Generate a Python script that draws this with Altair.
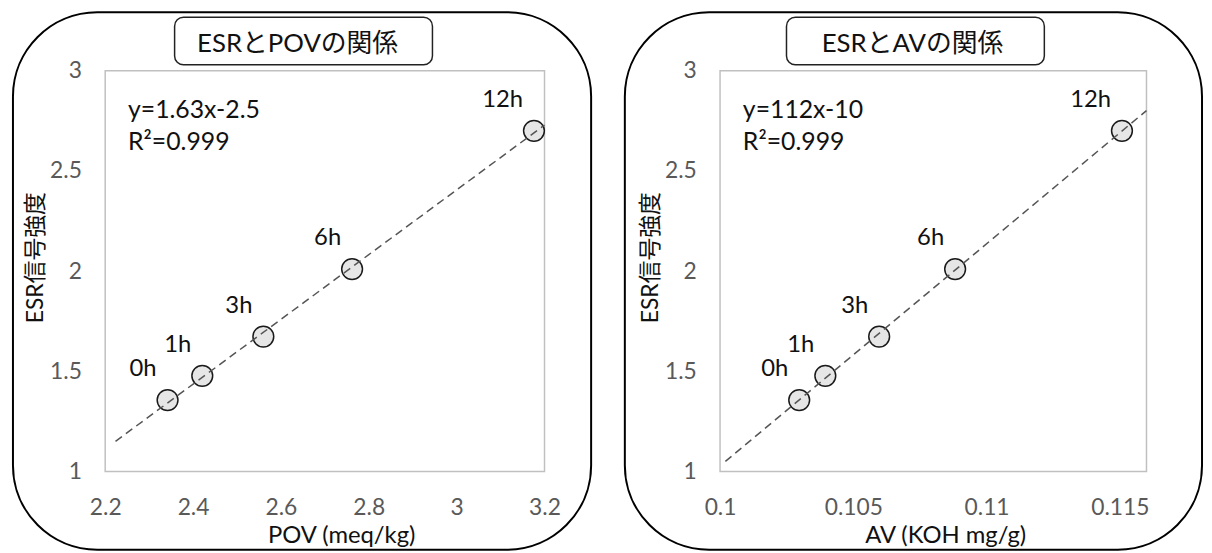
import altair as alt
import pandas as pd

FONT = "Lato, 'Noto Sans CJK JP', sans-serif"

labels = ["0h", "1h", "3h", "6h", "12h"]
esr = [1.356, 1.477, 1.673, 2.01, 2.70]
pov = [2.342, 2.421, 2.560, 2.762, 3.176]
av = [0.10297, 0.10395, 0.10597, 0.10882, 0.11508]

pov_ticks = [2.2, 2.4, 2.6, 2.8, 3.0, 3.2]
av_ticks = [0.1, 0.105, 0.11, 0.115]
y_ticks = [1, 1.5, 2, 2.5, 3]

pov_eq = ["y=1.63x-2.5", "R\u00b2=0.999"]
av_eq = ["y=112x-10", "R\u00b2=0.999"]

one = pd.DataFrame({"k": [0]})


def panel(xvals, xdomain, xticks, xtitle, extent, eq, title, width, height,
          border, tbox, title_x, xtitle_x):
    df = pd.DataFrame({"x": xvals, "y": esr, "label": labels})
    base = alt.Chart(df)
    xenc = alt.X("x:Q", scale=alt.Scale(domain=xdomain, nice=False, zero=False),
                 axis=alt.Axis(values=xticks, format="~g", title=xtitle, grid=False,
                               domain=False, ticks=False, tickSize=0, labelPadding=25,
                               labelFlush=False, labelOverlap=False,
                               titleFontSize=24,
                               titleX=xtitle_x, titleY=65, titleBaseline="middle",
                               titleAlign="center"))
    yenc = alt.Y("y:Q", scale=alt.Scale(domain=[1, 3], nice=False, zero=False),
                 axis=alt.Axis(values=y_ticks, format="~g", title="ESR信号強度", grid=False,
                               domain=False, ticks=False, tickSize=0, labelPadding=24,
                               labelFlush=False, labelOverlap=False,
                               titleFontSize=23,
                               titleX=-70, titleY=188, titleBaseline="middle",
                               titleAlign="center", titleAngle=270))
    outer = alt.Chart(one).mark_rect(filled=False, color="black", strokeWidth=2,
                                     cornerRadius=85).encode(
        x=alt.value(border[0]), x2=alt.value(border[1]),
        y=alt.value(border[2]), y2=alt.value(border[3]))
    box = alt.Chart(one).mark_rect(fill="white", stroke="#222222", strokeWidth=1.5,
                                   cornerRadius=9).encode(
        x=alt.value(tbox[0]), x2=alt.value(tbox[1]),
        y=alt.value(tbox[2]), y2=alt.value(tbox[3]))
    ttext = alt.Chart(one).mark_text(text=title, font=FONT, fontSize=26, color="#111111",
                                     align="center", baseline="middle").encode(
        x=alt.value(title_x), y=alt.value(-27))
    eqtext = alt.Chart(one).mark_text(text=eq, font=FONT, fontSize=25, color="#111111",
                                      align="left", baseline="alphabetic",
                                      lineHeight=32).encode(
        x=alt.value(23), y=alt.value(48))
    pts = base.mark_circle(size=440, color="#e6e6e6", opacity=1, stroke="#1a1a1a",
                           strokeWidth=1.5).encode(x=xenc, y=yenc)
    line = base.transform_regression("x", "y", extent=extent).mark_line(
        color="#555555", strokeWidth=1.5, strokeDash=[8, 5]).encode(
        x="x:Q", y="y:Q")
    txt = base.mark_text(font=FONT, fontSize=24, color="#111111", align="right",
                         baseline="middle", dx=-11, dy=-31).encode(
        x="x:Q", y="y:Q", text="label:N")
    return alt.layer(outer, box, ttext, eqtext, pts, line, txt).properties(
        width=width, height=height)


left = panel(pov, [2.2, 3.2], pov_ticks, "POV (meq/kg)", [2.2235, 3.2], pov_eq,
             "ESRとPOVの関係", 443, 404,
             [-93, 490, -59, 483], [70, 330, -54, -6], 194, 238)
right = panel(av, [0.1, 0.116], av_ticks, "AV (KOH mg/g)", [0.1002, 0.116], av_eq,
              "ESRとAVの関係", 430, 404,
              [-96, 486, -59, 483], [67, 327, -54, -6], 194, 227)

chart = alt.hconcat(left, right, spacing=30).properties(
    padding={"left": 3, "top": 0, "right": 0, "bottom": 0}
).configure_view(stroke="#c0c0c0", strokeWidth=1.5).configure_axis(
    labelFont=FONT, labelFontSize=23, labelColor="#595959",
    titleFont=FONT, titleColor="#111111", titleFontWeight="normal")

chart.save("out.html", embed_options={"renderer": "svg", "actions": False})
